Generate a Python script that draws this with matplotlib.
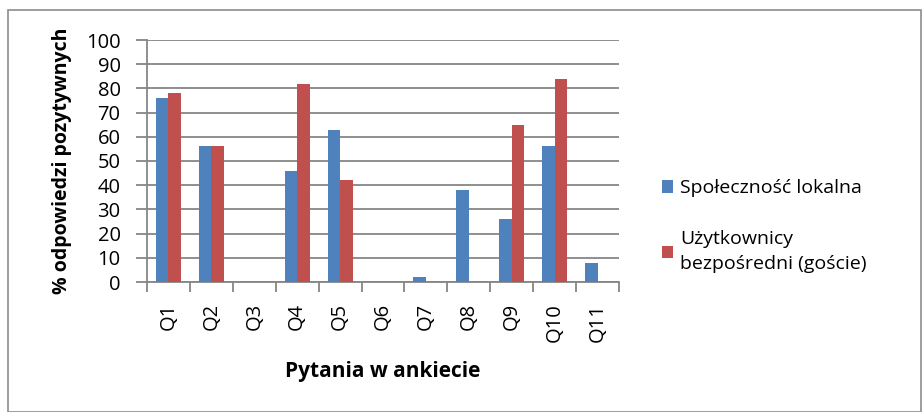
import matplotlib
matplotlib.use("Agg")
import matplotlib.pyplot as plt
import numpy as np
from matplotlib.patches import Rectangle

categories = ["Q1", "Q2", "Q3", "Q4", "Q5", "Q6", "Q7", "Q8", "Q9", "Q10", "Q11"]
spolecznosc = [76, 56, 0, 46, 63, 0, 2, 38, 26, 56, 8]
uzytkownicy = [78, 56, 0, 82, 42, 0, 0, 0, 65, 84, 0]
series_names = ["Społeczność lokalna", "Użytkownicy\nbezpośredni (goście)"]
yticks = list(range(0, 101, 10))

plt.rcParams["font.family"] = ["Open Sans", "DejaVu Sans"]
BLUE = "#4f81bd"
RED = "#c0504d"
GRID = "#868686"

fig = plt.figure(figsize=(9.22, 4.12), dpi=100)
ax = fig.add_axes([147/922, 1 - 282/412, (619-147)/922, (282-40)/412])

# outer chart border
fig.patches.append(Rectangle((8/922, 0), 1 - 9/922, 1 - 10/412, transform=fig.transFigure,
                             fill=False, edgecolor="#8c8c8c", linewidth=1.2))

x = np.arange(len(categories))
w = 0.29
ax.bar(x - w/2, spolecznosc, w, color=BLUE, label=series_names[0], zorder=3)
ax.bar(x + w/2, uzytkownicy, w, color=RED, label=series_names[1], zorder=3)

ax.set_xlim(-0.5, len(categories) - 0.5)
ax.set_ylim(0, 100)
ax.set_yticks(yticks)
ax.yaxis.grid(True, color=GRID, linewidth=1.3, zorder=0)
ax.set_axisbelow(True)
for s in ["top", "right"]:
    ax.spines[s].set_visible(False)
for s in ["left", "bottom"]:
    ax.spines[s].set_color(GRID)
    ax.spines[s].set_linewidth(1.3)

# ticks between categories, labels at centres
ax.set_xticks(np.arange(len(categories) + 1) - 0.5)
ax.set_xticklabels([])
ax.set_xticks(x, minor=True)
ax.set_xticklabels(categories, minor=True, rotation=90, fontsize=14.5)
ax.tick_params(axis="x", which="major", length=7, color=GRID, width=1.3, direction="out")
ax.tick_params(axis="x", which="minor", length=0, pad=15)
ax.tick_params(axis="y", length=8, color=GRID, width=1.3, labelsize=14.5, pad=11)

ax.set_xlabel("Pytania w ankiecie", fontsize=15, fontweight="bold", labelpad=14)
ax.set_ylabel("% odpowiedzi pozytywnych", fontsize=14, fontweight="bold", labelpad=10)

ax.legend(loc="center left", bbox_to_anchor=(1.053, 0.23), frameon=False,
          fontsize=14, handlelength=0.6, handleheight=0.6, handletextpad=0.35,
          labelspacing=1.7)
for t in ax.get_legend().get_texts():
    t.set_linespacing(1.5)

fig.savefig("out.png", dpi=100)
